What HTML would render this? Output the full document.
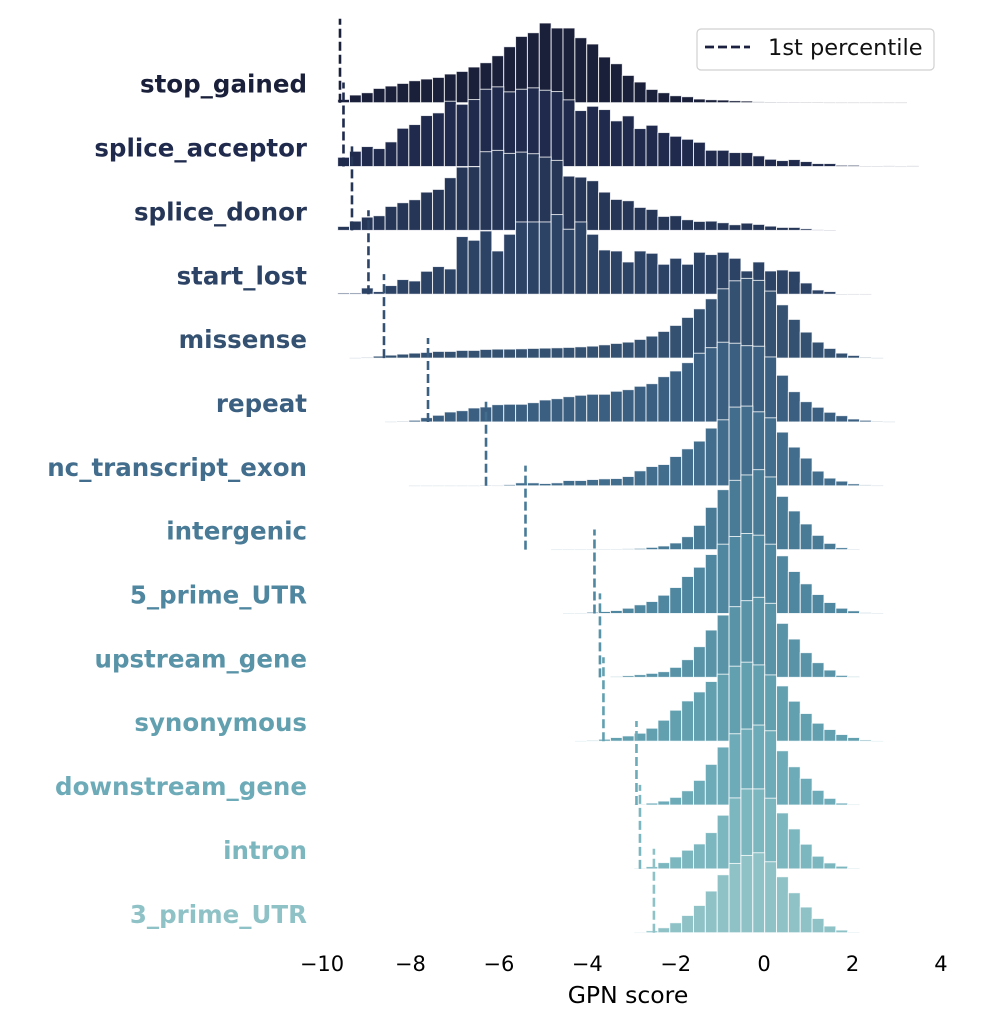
<!DOCTYPE html>
<html><head><meta charset="utf-8"><style>
html,body{margin:0;padding:0;background:#fff;}
svg{display:block;font-family:"DejaVu Sans","Liberation Sans",sans-serif;}
</style></head><body>
<svg id="chart" width="984" height="1016" viewBox="0 0 984 1016" xmlns="http://www.w3.org/2000/svg">
<g id="rows"></g>
<g id="xaxis"></g>
<text x="628" y="1003" font-size="23.5" text-anchor="middle" fill="#000">GPN score</text>
<g>
<rect x="697" y="29" width="237" height="41" rx="4" fill="#fff" fill-opacity="0.8" stroke="#d0d0d0" stroke-width="1.2"/>
<line x1="705" y1="47" x2="750" y2="47" stroke="#1b2040" stroke-width="2.8" stroke-dasharray="9,4"/>
<text x="768" y="55" font-size="22.5" fill="#111">1st percentile</text>
</g>
</svg>
<script>
const categories = ["stop_gained","splice_acceptor","splice_donor","start_lost","missense","repeat","nc_transcript_exon","intergenic","5_prime_UTR","upstream_gene","synonymous","downstream_gene","intron","3_prime_UTR"];
const binStart = -9.646;
const binWidth = 0.2683;
const firstBin = [0,0,0,0,1,4,6,18,19,23,20,25,25,25];
const heights0 = [3.3,7.7,10,14.3,16.7,19.3,22,23.7,25.3,28.7,31.3,35.7,40,47,56,66.3,70,79.7,74.7,74.7,65,58.7,45.7,39,27.3,20.7,13.3,10,7,6,3.7,3,2.7,2,1.7,1,0.7,0.5,0.3,0.3,0.3,0.2,0.2,0.2,0.2,0.2,0.2,0.2];
const heights1 = [9.3,15.3,20,18,24.7,38.3,42,51,53.7,65.3,62.3,67,77.3,79.7,74.7,77.3,78.7,76.3,75,66.7,56,60.3,57,45.7,50.7,38,41.3,34,30.3,27.3,24.3,16.3,16.3,14,14,10.7,7.3,6,7,5,3,3,1.3,1.3,0.3,0.3,0.7,0.1,0.7];
const heights2 = [4,9.3,13.3,14.7,24,27.7,30.7,38.3,41,52.7,63.3,63.7,78.7,80,77,78.3,76.7,73.3,70,54.3,53.3,49.7,38.3,31,29.7,23,21,14,14.7,10.7,9,9.3,7.7,5.7,7.3,6,4.3,3,3,1.7,0.7,0.3];
const heights3 = [1.3,1.3,6.3,2.7,8.7,14.7,13.3,23,27.7,25.3,57.7,54,63.3,43.3,60,72.3,72.3,72.3,79.7,65,72.3,60,44.3,43.3,32.3,43.3,41,30,36,30,42,39.7,42,36,23.3,32.3,23.3,24.3,23,11.3,4.3,2.7,0,0.3,0.3];
const heights4 = [0.3,0.7,2,3,4,5,5.7,6.7,6.7,7.7,7.7,8.7,9,9,9.3,9.7,10,10.3,10.7,11.3,12,13.3,14.7,16,18.7,22,26.7,32.7,40.7,49.3,59.3,69.3,77.3,79.7,77.7,67,53.3,38.7,26,16,9.7,5,2.7,1,0.3];
const heights5 = [0.3,0.7,1.7,4.3,6.7,10,11.3,14,15,17.3,17.7,17.7,19.3,22,23.3,25.3,26.7,27.7,27.7,30.7,32.3,35.7,38.3,45.3,51,59.3,68.7,74.3,79.7,78.7,76.3,75.7,65,46.7,30.3,20.3,14.7,9.7,6.3,3,1.7,0.7,0.3];
const heights6 = [0.2,0.2,0.2,0.2,0.2,0.2,0.7,0.3,1.3,3,3,2.3,3,5.3,5.3,6.3,7,7.3,9.3,15,19.3,21.3,29.3,37,44.7,57.7,66,78.7,79.7,74,68,53.7,38.7,27.7,14.7,7.7,4.7,2,1,0.3];
const heights7 = [0.2,0.2,0.2,0.2,0.3,0.3,1,1.3,2.3,3.7,6.7,13,24.3,42.3,60,69.3,74.7,80,72.7,53.3,38.7,25.7,14.3,6.3,2,0.3];
const heights8 = [0.2,0.2,1.3,2,3,5.3,8.7,12,18.3,26,37,46.3,59,69.3,77,80,78.3,69.3,57.7,42,29.7,19,11,5.3,2.7,1,0.3];
const heights9 = [1,1.7,2.7,4,5.7,10,17.7,30.7,47.3,62.3,70.7,76.7,80,74,54,38.3,24.7,14.7,7.3,2,1];
const heights10 = [0.3,1,2,3.7,5.3,8,13,21,31,40.3,49.3,59.7,67,75,79,76.3,66.3,55.3,40,27.7,18,11.7,6.7,3.7,1.3,0.3];
const heights11 = [0.7,2,4,7.7,14.3,24.7,40.7,58,71.3,76,80,74.3,54.3,38.3,26.7,14.7,6.7,2,0.7];
const heights12 = [0.7,2.3,6.3,12,18.7,25,36.3,53.7,71,80,80,70.7,56,40,24.7,12.7,6,2.7,0.7];
const heights13 = [0.3,2,5,10,17.3,27.3,41.7,58,69.3,77.3,80,71,56,40,25.7,14.3,6.7,2.7,0.7];
const percentile1 = [-9.593,-9.514,-9.322,-8.949,-8.598,-7.602,-6.290,-5.397,-3.837,-3.713,-3.634,-2.887,-2.808,-2.492];
const xTicks = [-10,-8,-6,-4,-2,0,2,4];
const xTickLabels = ["\u221210","\u22128","\u22126","\u22124","\u22122","0","2","4"];

const allHeights = [heights0,heights1,heights2,heights3,heights4,heights5,heights6,heights7,heights8,heights9,heights10,heights11,heights12,heights13];
const colors = ["#1a1f3a","#1f2a4c","#253657","#2c4366","#345171","#3b5f80","#426d8c","#497b97","#5087a0","#5893a8","#62a0b0","#6eabb8","#7cb6bf","#8ec2c7"];
const NS = "http://www.w3.org/2000/svg";
function xScale(v){ return 322 + (v + 10) * 44.21; }
function rowBase(i){ return 102.7 + i * 63.85; }
function yScale(v){ return v * 1.0; }

const rowsG = document.getElementById('rows');
for (let i = 0; i < categories.length; i++) {
  const g = document.createElementNS(NS, 'g');
  
  
  const base = rowBase(i);
  const hs = allHeights[i];
  for (let j = 0; j < hs.length; j++) {
    const k = firstBin[i] + j;
    const x0 = xScale(binStart + k * binWidth);
    const x1 = xScale(binStart + (k + 1) * binWidth);
    const h = yScale(hs[j]);
    const r = document.createElementNS(NS, 'rect');
    r.setAttribute('x', x0.toFixed(2));
    r.setAttribute('y', (base - h).toFixed(2));
    r.setAttribute('width', (x1 - x0).toFixed(2));
    r.setAttribute('height', Math.max(h, 0.6).toFixed(2));
    r.setAttribute('fill', colors[i]);
    r.setAttribute('stroke', '#ffffff');
    r.setAttribute('stroke-opacity', '0.8');
    r.setAttribute('stroke-width', '1');
    
    
    g.appendChild(r);
  }
  const px = xScale(percentile1[i]);
  const ln = document.createElementNS(NS, 'line');
  ln.setAttribute('x1', px); ln.setAttribute('x2', px);
  ln.setAttribute('y1', base); ln.setAttribute('y2', base - 84);
  ln.setAttribute('stroke', colors[i]);
  ln.setAttribute('stroke-width', '2.6');
  ln.setAttribute('stroke-dasharray', '9,4');
  
  
  g.appendChild(ln);
  const t = document.createElementNS(NS, 'text');
  t.setAttribute('x', 307);
  t.setAttribute('y', base - 10);
  t.setAttribute('text-anchor', 'end');
  t.setAttribute('font-size', '24.5');
  t.setAttribute('font-weight', 'bold');
  t.setAttribute('fill', colors[i]);
  t.textContent = categories[i];
  
  
  g.appendChild(t);
  rowsG.appendChild(g);
}
const xa = document.getElementById('xaxis');
for (let i = 0; i < xTicks.length; i++) {
  const t = document.createElementNS(NS, 'text');
  t.setAttribute('x', xScale(xTicks[i]));
  t.setAttribute('y', 971);
  t.setAttribute('text-anchor', 'middle');
  t.setAttribute('font-size', '21');
  t.setAttribute('fill', '#000');
  t.textContent = xTickLabels[i];
  
  
  xa.appendChild(t);
}
</script>
</body></html>
